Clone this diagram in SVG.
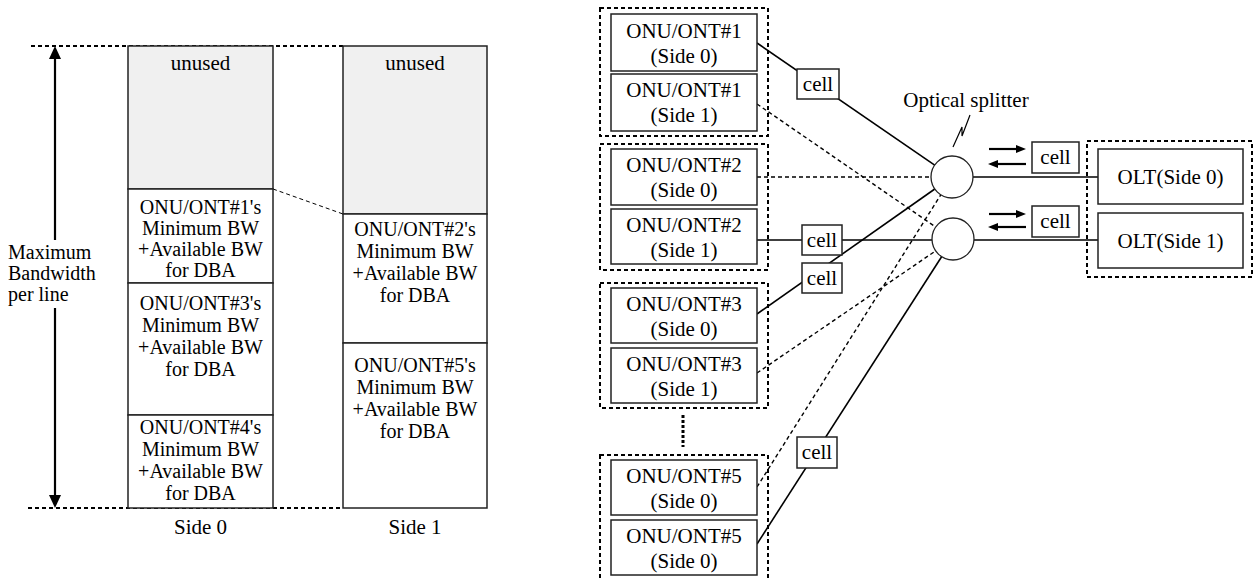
<svg xmlns="http://www.w3.org/2000/svg" width="1254" height="580" viewBox="0 0 1254 580">
<style>
.box{fill:#fff;stroke:#222;stroke-width:1.5}
.unused{fill:#f0f0f0;stroke:#222;stroke-width:1.5}
.grp{fill:none;stroke:#000;stroke-width:2;stroke-dasharray:4 3}
.t{font-family:"Liberation Serif","Times New Roman",serif;font-size:21px;fill:#000}
.s{font-size:20px}
.c{text-anchor:middle}
.solid{stroke:#000;stroke-width:1.6;fill:none}
.dash{stroke:#000;stroke-width:1.4;stroke-dasharray:4 3;fill:none}
.thick{stroke:#000;stroke-width:2.2;fill:none}
.bdash{stroke:#000;stroke-width:2;stroke-dasharray:4 3;fill:none}
.circ{fill:#fff;stroke:#222;stroke-width:1.3}
</style>
<defs>
<marker id="ah" markerUnits="userSpaceOnUse" markerWidth="10" markerHeight="8" refX="0" refY="4" orient="auto">
<path d="M0,0 L10,4 L0,8 z" fill="#000"/>
</marker>
<marker id="ahBig" markerUnits="userSpaceOnUse" markerWidth="13" markerHeight="12" refX="0" refY="6" orient="auto">
<path d="M0,0 L13,6 L0,12 z" fill="#000"/>
</marker>
</defs>

<!-- Left: bandwidth allocation -->
<g id="bw-guides">
<line class="bdash" x1="31" y1="46" x2="343" y2="46"/>
<line class="bdash" x1="28" y1="508" x2="343" y2="508"/>
<line class="dash" x1="273" y1="189" x2="343" y2="214" style="stroke-width:1"/>
</g>
<g id="max-bw-arrow">
<line class="thick" x1="55" y1="240" x2="55" y2="59" marker-end="url(#ahBig)"/>
<line class="thick" x1="55" y1="308" x2="55" y2="495" marker-end="url(#ahBig)"/>
<text class="t s" x="8" y="259">Maximum</text>
<text class="t s" x="8" y="280">Bandwidth</text>
<text class="t s" x="8" y="301">per line</text>
</g>

<g id="side0-unused">
<rect class="unused" x="128" y="46" width="145" height="143"/>
<text class="t c" x="200.5" y="70">unused</text>
</g>
<g id="side0-onu1">
<rect class="box" x="128" y="189" width="145" height="94"/>
<text class="t s c" x="200.5" y="214">ONU/ONT#1's</text>
<text class="t s c" x="200.5" y="235">Minimum BW</text>
<text class="t s c" x="200.5" y="256">+Available BW</text>
<text class="t s c" x="200.5" y="277">for DBA</text>
</g>
<g id="side0-onu3">
<rect class="box" x="128" y="283" width="145" height="132"/>
<text class="t s c" x="200.5" y="310">ONU/ONT#3's</text>
<text class="t s c" x="200.5" y="332">Minimum BW</text>
<text class="t s c" x="200.5" y="354">+Available BW</text>
<text class="t s c" x="200.5" y="376">for DBA</text>
</g>
<g id="side0-onu4">
<rect class="box" x="128" y="415" width="145" height="93"/>
<text class="t s c" x="200.5" y="434">ONU/ONT#4's</text>
<text class="t s c" x="200.5" y="456">Minimum BW</text>
<text class="t s c" x="200.5" y="478">+Available BW</text>
<text class="t s c" x="200.5" y="500">for DBA</text>
</g>
<text class="t c" x="200.5" y="534">Side 0</text>

<g id="side1-unused">
<rect class="unused" x="343" y="46" width="144" height="168"/>
<text class="t c" x="415" y="70">unused</text>
</g>
<g id="side1-onu2">
<rect class="box" x="343" y="214" width="144" height="129"/>
<text class="t s c" x="415" y="236">ONU/ONT#2's</text>
<text class="t s c" x="415" y="258">Minimum BW</text>
<text class="t s c" x="415" y="280">+Available BW</text>
<text class="t s c" x="415" y="302">for DBA</text>
</g>
<g id="side1-onu5">
<rect class="box" x="343" y="343" width="144" height="165"/>
<text class="t s c" x="415" y="372">ONU/ONT#5's</text>
<text class="t s c" x="415" y="394">Minimum BW</text>
<text class="t s c" x="415" y="416">+Available BW</text>
<text class="t s c" x="415" y="438">for DBA</text>
</g>
<text class="t c" x="415" y="534">Side 1</text>

<!-- Right: network -->
<g id="connectors">
<line class="solid" x1="757" y1="43" x2="934.7" y2="165.1"/>
<line class="dash" x1="757" y1="104" x2="935.7" y2="227"/>
<line class="dash" x1="757" y1="177" x2="931" y2="177"/>
<line class="solid" x1="757" y1="240" x2="932" y2="240"/>
<line class="solid" x1="757" y1="314" x2="934.8" y2="189"/>
<line class="dash" x1="757" y1="373" x2="935.7" y2="250.8"/>
<line class="dash" x1="757" y1="487" x2="940.8" y2="194.8"/>
<line class="solid" x1="757" y1="544" x2="941.6" y2="256.7"/>
<line class="solid" x1="973" y1="177" x2="1098" y2="177"/>
<line class="solid" x1="974" y1="240" x2="1098" y2="240"/>
<line class="thick" x1="989" y1="149" x2="1016" y2="149" marker-end="url(#ah)"/>
<line class="thick" x1="1026" y1="164" x2="998" y2="164" marker-end="url(#ah)"/>
<line class="thick" x1="989" y1="214" x2="1016" y2="214" marker-end="url(#ah)"/>
<line class="thick" x1="1026" y1="227" x2="998" y2="227" marker-end="url(#ah)"/>
<line x1="683" y1="415" x2="683" y2="447" style="stroke:#000;stroke-width:3;stroke-dasharray:3 2"/>
</g>

<g id="cells">
<g id="cell1"><rect class="box" x="797" y="69" width="42" height="30"/><text class="t c" x="818" y="91">cell</text></g>
<g id="cell2"><rect class="box" x="802" y="225" width="40" height="30"/><text class="t c" x="822" y="247">cell</text></g>
<g id="cell3"><rect class="box" x="802" y="263" width="40" height="30"/><text class="t c" x="822" y="285">cell</text></g>
<g id="cell4"><rect class="box" x="797" y="437" width="40" height="31"/><text class="t c" x="817" y="459">cell</text></g>
<g id="cell5"><rect class="box" x="1032" y="142" width="47" height="31"/><text class="t c" x="1055.5" y="164">cell</text></g>
<g id="cell6"><rect class="box" x="1032" y="206" width="47" height="31"/><text class="t c" x="1055.5" y="228">cell</text></g>
</g>

<g id="splitter">
<circle class="circ" cx="952" cy="177" r="21"/>
<circle class="circ" cx="953" cy="239" r="21"/>
<text class="t c" x="966" y="107">Optical splitter</text>
<polyline points="953,147 962,127 962,136 970,115" style="fill:none;stroke:#000;stroke-width:1.2"/>
</g>

<g id="group-onu1">
<rect class="grp" x="600" y="8" width="168" height="128"/>
<g id="onu1-side0"><rect class="box" x="611" y="14" width="146" height="57"/>
<text class="t c" x="684" y="38">ONU/ONT#1</text><text class="t c" x="684" y="63">(Side 0)</text></g>
<g id="onu1-side1"><rect class="box" x="611" y="74" width="146" height="57"/>
<text class="t c" x="684" y="97">ONU/ONT#1</text><text class="t c" x="684" y="122">(Side 1)</text></g>
</g>
<g id="group-onu2">
<rect class="grp" x="600" y="144" width="168" height="126"/>
<g id="onu2-side0"><rect class="box" x="611" y="149" width="146" height="56"/>
<text class="t c" x="684" y="172">ONU/ONT#2</text><text class="t c" x="684" y="197">(Side 0)</text></g>
<g id="onu2-side1"><rect class="box" x="611" y="209" width="146" height="55"/>
<text class="t c" x="684" y="232">ONU/ONT#2</text><text class="t c" x="684" y="257">(Side 1)</text></g>
</g>
<g id="group-onu3">
<rect class="grp" x="600" y="283" width="168" height="125"/>
<g id="onu3-side0"><rect class="box" x="611" y="288" width="146" height="55"/>
<text class="t c" x="684" y="311">ONU/ONT#3</text><text class="t c" x="684" y="336">(Side 0)</text></g>
<g id="onu3-side1"><rect class="box" x="611" y="348" width="146" height="55"/>
<text class="t c" x="684" y="371">ONU/ONT#3</text><text class="t c" x="684" y="396">(Side 1)</text></g>
</g>
<g id="group-onu5">
<rect class="grp" x="600" y="455" width="168" height="135"/>
<g id="onu5-a"><rect class="box" x="611" y="460" width="146" height="55"/>
<text class="t c" x="684" y="483">ONU/ONT#5</text><text class="t c" x="684" y="508">(Side 0)</text></g>
<g id="onu5-b"><rect class="box" x="611" y="520" width="146" height="55"/>
<text class="t c" x="684" y="543">ONU/ONT#5</text><text class="t c" x="684" y="568">(Side 0)</text></g>
</g>

<g id="group-olt">
<rect class="grp" x="1087" y="141" width="165" height="136"/>
<g id="olt0"><rect class="box" x="1098" y="149" width="145" height="55"/>
<text class="t c" x="1170.5" y="184">OLT(Side 0)</text></g>
<g id="olt1"><rect class="box" x="1098" y="213" width="145" height="55"/>
<text class="t c" x="1170.5" y="248">OLT(Side 1)</text></g>
</g>
</svg>
